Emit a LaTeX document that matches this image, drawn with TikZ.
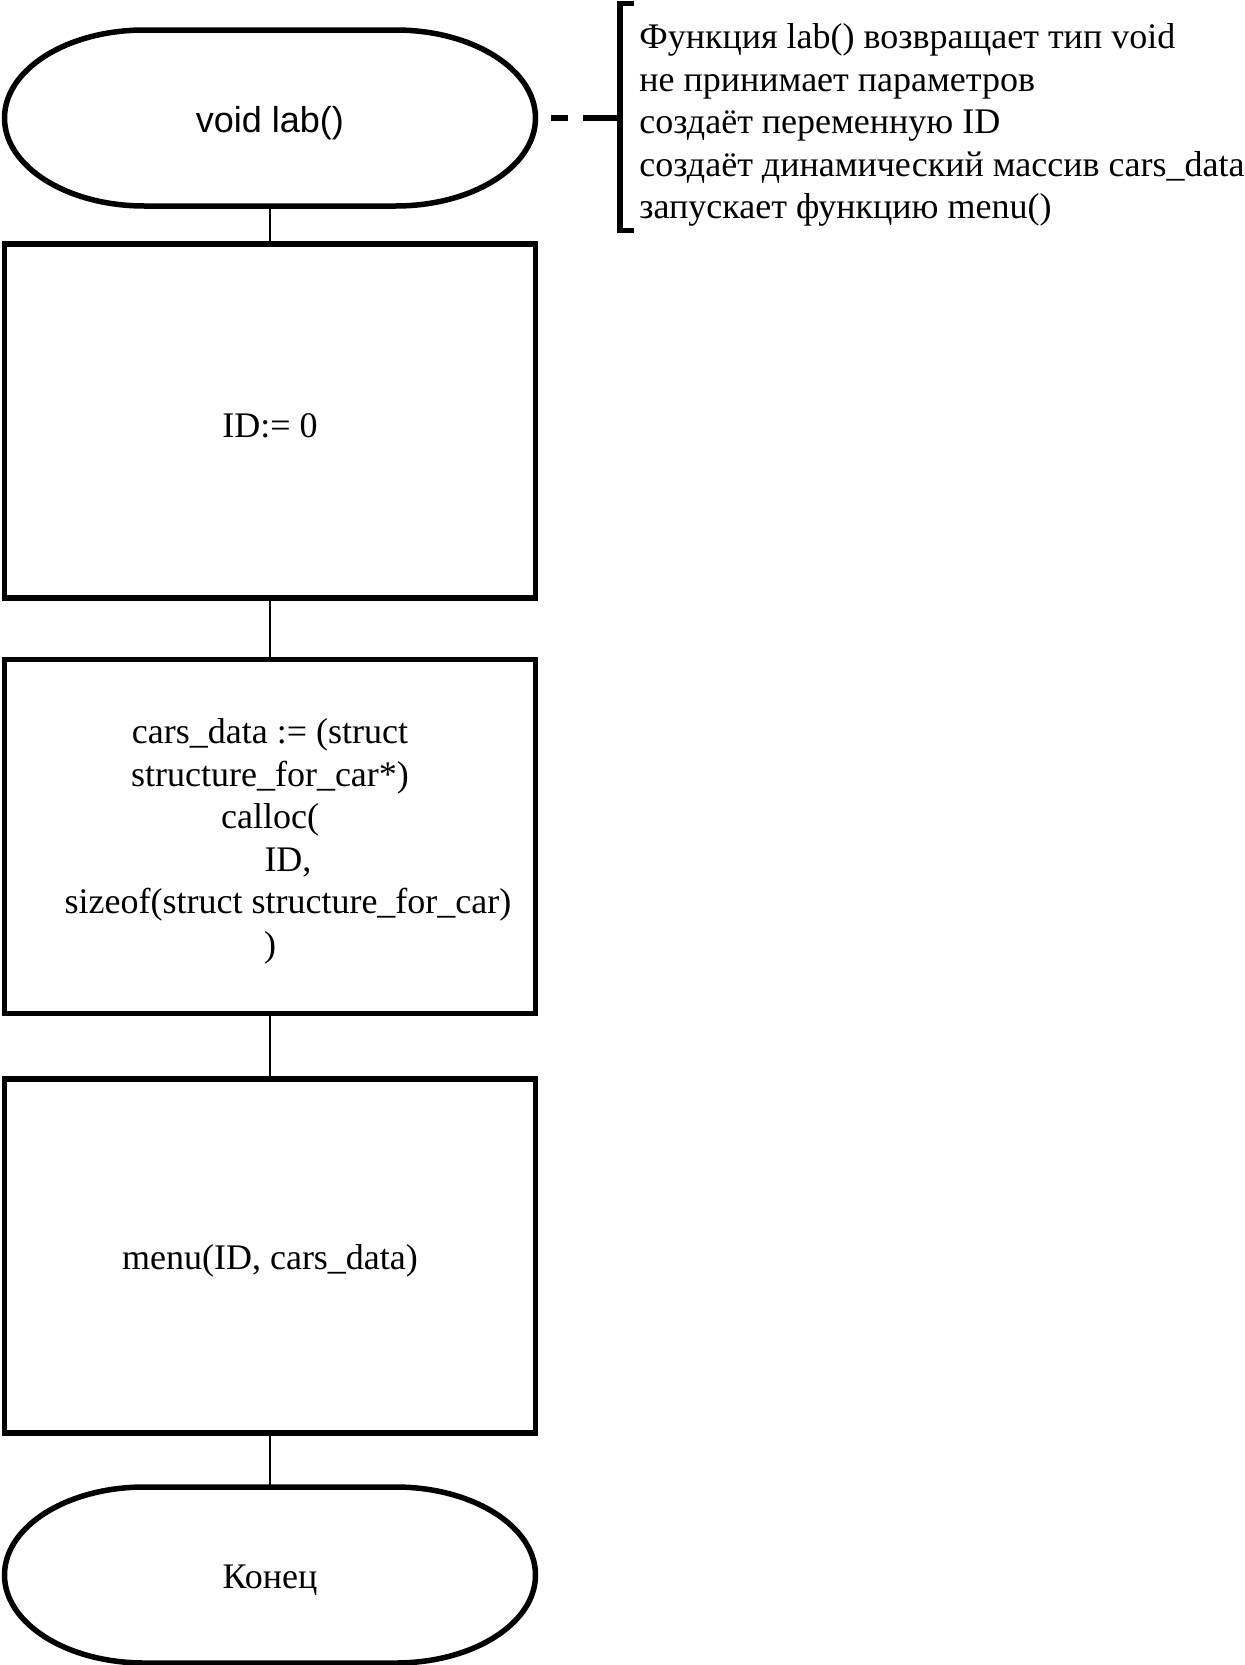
\documentclass[tikz,border=0pt]{standalone}
\usepackage{fontspec}
\setmainfont{Liberation Serif}
\newfontfamily\arialfont{Liberation Sans}
% контур терминатора с эллиптическими краями
\newcommand{\termkontur}[1]{\draw[kontur] ([xshift=\rx]#1.north west) -- ([xshift=-\rx]#1.north east)
  arc[start angle=90, end angle=-90, x radius=\rx, y radius=\ry] -- ([xshift=\rx]#1.south west)
  arc[start angle=270, end angle=90, x radius=\rx, y radius=\ry] -- cycle;}
% текст чуть ниже центра
\newcommand{\niz}[1]{\raisebox{-2.5pt}[\height][\depth]{#1}}
\begin{document}
\begin{tikzpicture}[x=0.5pt, y=-0.5pt, font=\fontsize{18pt}{21.25pt}\selectfont,
  blok/.style={rectangle, minimum width=265.5pt, minimum height=177pt, inner sep=0pt, outer sep=0pt, align=center},
  term/.style={blok, minimum height=88pt},
  kontur/.style={line width=2.75pt},
  svyaz/.style={line width=1.15pt}]
			\def\rx{70pt} \def\ry{44pt} % радиусы
			\useasboundingbox (0,0) rectangle (1245,1665);
			\node[term, font=\arialfont\fontsize{18pt}{21.25pt}\selectfont] (start) at (270,118) {\niz{void lab()}};
			\node[blok, draw, kontur] (init) at (270,421) {\niz{ID:= 0}};
			\node[blok, draw, kontur] (alloc) at (270,836.5) {\niz{\begin{tabular}{@{}c@{}}cars\_data := (struct\\structure\_for\_car*)\\calloc(\\\hspace*{1em}ID,\\\hspace*{1em}sizeof(struct structure\_for\_car)\\)\end{tabular}}};
			\node[blok, draw, kontur] (call) at (270,1256) {\niz{menu(ID, cars\_data)}};
			\node[term] (finish) at (270,1575) {\niz{Конец}};
			\termkontur{start}
			\termkontur{finish}
			\draw[svyaz] (start) -- (init);
			\draw[svyaz] (init) -- (alloc);
			\draw[svyaz] (alloc) -- (call);
			\draw[svyaz] (call) -- (finish);
			% комментарий
			\node[anchor=west, align=left, inner sep=0pt] (note) at (639,125) {Функция lab() возвращает тип void\\не принимает параметров\\создаёт переменную ID\\создаёт динамический массив cars\_data\\запускает функцию menu()};
			\coordinate (stub) at (583,118);
			\draw[kontur] (634,3.5) -- (620,3.5) -- (620,230.5) -- (634,230.5);
			\draw[kontur] (stub) -- (620,118);
			\draw[kontur, dash pattern=on 8.5pt off 9.5pt, dash phase=10.25pt] (start.east) -- (stub);
		\end{tikzpicture}
\end{document}
